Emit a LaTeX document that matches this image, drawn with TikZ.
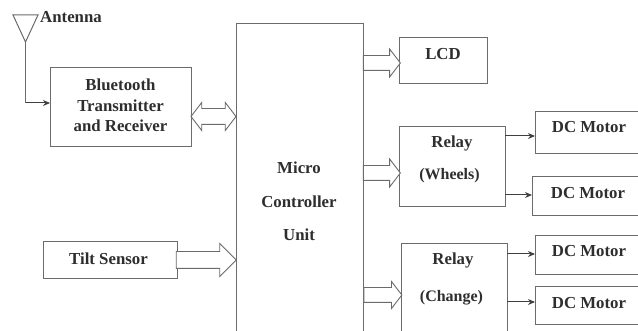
\documentclass[tikz,border=0pt]{standalone}
\usepackage{fontspec}
\setmainfont{Liberation Serif}
\usetikzlibrary{shapes.arrows,arrows.meta,positioning}
\definecolor{ln}{gray}{0.42}
\definecolor{tx}{gray}{0.18}
\tikzset{
  x=1pt,y=-1pt,
  lbl/.style={font=\bfseries\fontsize{16.8}{20.5}\selectfont,text=tx,align=center,inner sep=0pt},
  small/.style={font=\bfseries\fontsize{16}{20}\selectfont},
  blk/.style={draw=ln,line width=1pt,inner sep=0pt,outer sep=0pt,fill=white},
  blockarrow/.style={single arrow,draw=ln,line width=0.9pt,fill=white,inner sep=7pt,outer sep=0pt,single arrow tip angle=105},
  dblarrow/.style={double arrow,draw=ln,line width=0.9pt,fill=white,inner sep=7.5pt,outer sep=0pt,double arrow tip angle=105},
  sig/.style={draw=black!75,line width=1pt,-{Stealth[length=7pt,width=6pt]}},
}
\begin{document}
\begin{tikzpicture}
\useasboundingbox (0,0) rectangle (638,331);
\clip (0,0) rectangle (638,331);
\fill[white] (0,0) rectangle (638,331);
% boxes
\node[blk,minimum width=141pt,minimum height=79pt] (bt) at (120.5,107.5) {};
\node[blk,minimum width=127pt,minimum height=308pt] (mcu) at (299.5,178) {};
\node[blk,minimum width=88pt,minimum height=46pt] (lcd) at (443,61) {};
\node[blk,minimum width=106pt,minimum height=80pt] (rw) at (452,167) {};
\node[blk,minimum width=106pt,minimum height=90pt] (rc) at (454,289) {};
\node[blk,minimum width=134pt,minimum height=37pt] (tilt) at (110,260.5) {};
\node[blk,minimum width=115pt,minimum height=42pt] (m1) at (592.5,133) {};
\node[blk,minimum width=118pt,minimum height=39pt] (m2) at (591,196.5) {};
\node[blk,minimum width=115pt,minimum height=39pt] (m3) at (592.5,255) {};
\node[blk,minimum width=115pt,minimum height=38pt] (m4) at (592.5,306) {};
% labels
\node[lbl,anchor=center] (btl) at (120.5,105.5) {Bluetooth\\Transmitter\\and Receiver};
\node[lbl] (mcul) at (299,168) {Micro};
\node[lbl] (mcul2) at (299,202) {Controller};
\node[lbl] (mcul3) at (299,235) {Unit};
\node[lbl] (lcdl) at (443,54) {LCD};
\node[lbl] (rwl) at (452,143) {Relay};
\node[lbl,small] (rwl2) at (449.5,176) {(Wheels)};
\node[lbl] (rcl) at (453,260) {Relay};
\node[lbl,small] (rcl2) at (451.5,298) {(Change)};
\node[lbl] (tl) at (108.5,259) {Tilt Sensor};
\node[lbl] (m1l) at (589,127) {DC Motor};
\node[lbl] (m2l) at (588,193) {DC Motor};
\node[lbl] (m3l) at (589,251) {DC Motor};
\node[lbl] (m4l) at (589,303) {DC Motor};
% block arrows
\node[dblarrow,minimum height=45pt,double arrow head extend=6pt] (a1) at (213.5,116.5) {};
\node[blockarrow,minimum height=60pt,single arrow head extend=8pt,inner sep=8pt,single arrow tip angle=90] (a2) at (202,260) {};
\node[blockarrow,minimum height=37pt,single arrow head extend=6.5pt] (a3) at (379,63) {};
\node[blockarrow,minimum height=37pt,single arrow head extend=6.5pt] (a4) at (379,173) {};
\node[blockarrow,minimum height=38pt,single arrow head extend=6pt] (a5) at (380,295) {};
% antenna
\coordinate (antL) at (13,15);
\coordinate (antR) at (38,15);
\coordinate (antT) at (25.5,42);
\coordinate (antB) at (25.5,103);
\draw[ln,line width=1pt,fill=white] (antL) -- (antR) -- (antT) -- cycle;
\node[lbl,anchor=west] (antl) at (40,17) {Antenna};
\draw[ln,line width=1pt] (antT) -- (antB);
\draw[sig] (antB) -- (bt.west |- antB);
% signals
\draw[sig] (rw.east |- 0,136) -- (m1.west |- 0,136);
\draw[sig] (rw.east |- 0,195) -- (m2.west |- 0,195);
\draw[sig] (rc.east |- 0,254) -- (m3.west |- 0,254);
\draw[sig] (rc.east |- 0,302) -- (m4.west |- 0,302);
\end{tikzpicture}
\end{document}
